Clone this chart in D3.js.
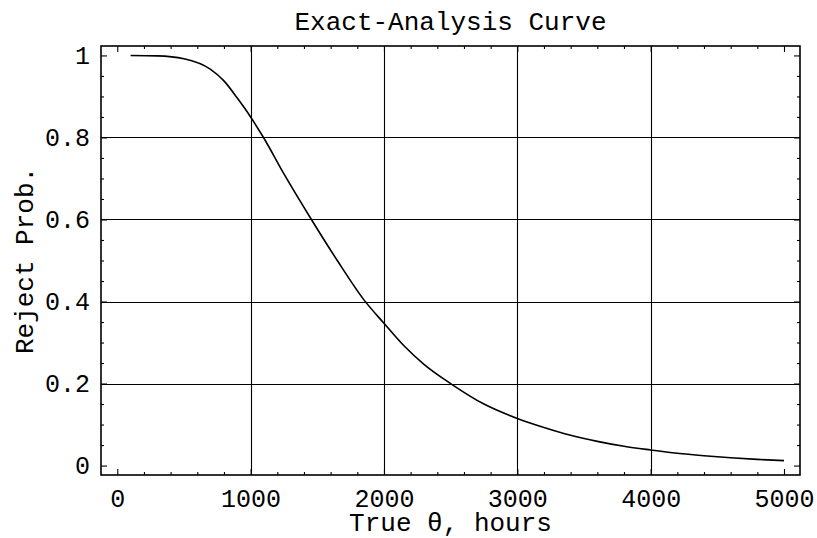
<!DOCTYPE html>
<html><head><meta charset="utf-8">
<script src="https://cdn.jsdelivr.net/npm/d3@7"></script>
<style>body{margin:0;background:#fff}svg{display:block}</style>
</head><body>
<svg id="c" width="817" height="538"></svg>
<script>
// ---- data ----
const theta = [100, 300, 500, 700, 800, 900, 1000, 1100, 1250, 1450, 1650, 1850, 2000, 2150, 2300, 2500, 2750, 3000, 3200, 3400, 3600, 3800, 4000, 4200, 4400, 4600, 4800, 5000];
const rejectProb = [1.000, 0.999, 0.992, 0.966, 0.938, 0.896, 0.850, 0.798, 0.711, 0.603, 0.500, 0.404, 0.347, 0.292, 0.247, 0.200, 0.150, 0.115, 0.093, 0.074, 0.059, 0.047, 0.038, 0.030, 0.024, 0.019, 0.015, 0.012];
const xTicks = [0, 1000, 2000, 3000, 4000, 5000];
const yTicks = [0, 0.2, 0.4, 0.6, 0.8, 1];
const xGrid = [1000, 2000, 3000, 4000];
const yGrid = [0.2, 0.4, 0.6, 0.8];
const xMinor = d3.range(0, 5001, 200).filter(v => v % 1000 !== 0);
const yMinor = d3.range(0, 21).map(i => i * 0.05).filter((v, i) => i % 4 !== 0);
const titleText = "Exact-Analysis Curve";
const xLabelText = "True \u03B8, hours";
const yLabelText = "Reject Prob.";

// ---- layout ----
const L = 101, R = 800, T = 46, B = 475;
const FONT = "'Liberation Mono', 'Courier New', monospace";
const svg = d3.select("#c");
svg.append("rect").attr("width", 817).attr("height", 538).attr("fill", "#fff");

const x = d3.scaleLinear().domain([-122, 5120]).range([L, R]);
const y = d3.scaleLinear().domain([-0.023, 1.023]).range([B, T]);

// gridlines
const g = svg.append("g").attr("stroke", "#000").attr("stroke-width", 1.1);
g.selectAll(".gx").data(xGrid).join("line")
  .attr("x1", d => Math.round(x(d)) + 0.5).attr("x2", d => Math.round(x(d)) + 0.5)
  .attr("y1", T).attr("y2", B);
g.selectAll(".gy").data(yGrid).join("line")
  .attr("y1", d => Math.round(y(d)) + 0.5).attr("y2", d => Math.round(y(d)) + 0.5)
  .attr("x1", L).attr("x2", R);

function styleAxis(sel) {
  sel.select(".domain").remove();
  sel.selectAll(".tick line").attr("stroke", "#000").attr("stroke-width", 1.1);
  sel.selectAll("text").attr("font-family", FONT).attr("font-size", 25).attr("fill", "#000");
}
const yFmt = d => (d === 0 ? "0" : d === 1 ? "1" : d3.format(".1f")(d));

// bottom axis with labels
svg.append("g").attr("transform", `translate(0,${B})`)
  .call(d3.axisBottom(x).tickValues(xTicks).tickSizeInner(-6).tickSizeOuter(0).tickPadding(14).tickFormat(d3.format("d")))
  .call(styleAxis);
svg.append("g").attr("transform", `translate(0,${B})`)
  .call(d3.axisBottom(x).tickValues(xMinor).tickSizeInner(-3).tickSizeOuter(0).tickFormat(""))
  .call(styleAxis);
// top axis (ticks only)
svg.append("g").attr("transform", `translate(0,${T})`)
  .call(d3.axisTop(x).tickValues(xTicks).tickSizeInner(-6).tickSizeOuter(0).tickFormat(""))
  .call(styleAxis);
svg.append("g").attr("transform", `translate(0,${T})`)
  .call(d3.axisTop(x).tickValues(xMinor).tickSizeInner(-3).tickSizeOuter(0).tickFormat(""))
  .call(styleAxis);
// left axis with labels
svg.append("g").attr("transform", `translate(${L},0)`)
  .call(d3.axisLeft(y).tickValues(yTicks).tickSizeInner(-6).tickSizeOuter(0).tickPadding(11).tickFormat(yFmt))
  .call(styleAxis);
svg.append("g").attr("transform", `translate(${L},0)`)
  .call(d3.axisLeft(y).tickValues(yMinor).tickSizeInner(-3).tickSizeOuter(0).tickFormat(""))
  .call(styleAxis);
// right axis (ticks only)
svg.append("g").attr("transform", `translate(${R},0)`)
  .call(d3.axisRight(y).tickValues(yTicks).tickSizeInner(-6).tickSizeOuter(0).tickFormat(""))
  .call(styleAxis);
svg.append("g").attr("transform", `translate(${R},0)`)
  .call(d3.axisRight(y).tickValues(yMinor).tickSizeInner(-3).tickSizeOuter(0).tickFormat(""))
  .call(styleAxis);

// frame
svg.append("rect").attr("x", L).attr("y", T).attr("width", R - L).attr("height", B - T)
  .attr("fill", "none").attr("stroke", "#000").attr("stroke-width", 1.6);

// curve
const pts = theta.map((t, i) => [t, rejectProb[i]]);
svg.append("path").datum(pts)
  .attr("fill", "none").attr("stroke", "#000").attr("stroke-width", 1.6)
  .attr("d", d3.line().x(d => x(d[0])).y(d => y(d[1])).curve(d3.curveMonotoneX));

// title and axis labels
svg.append("text").attr("x", (L + R) / 2).attr("y", 30).attr("text-anchor", "middle")
  .attr("font-family", FONT).attr("font-size", 26).text(titleText);
svg.append("text").attr("x", (L + R) / 2).attr("y", 531).attr("text-anchor", "middle")
  .attr("font-family", FONT).attr("font-size", 26).text(xLabelText);
svg.append("text").attr("transform", `translate(33,${(T + B) / 2}) rotate(-90)`).attr("text-anchor", "middle")
  .attr("font-family", FONT).attr("font-size", 26).text(yLabelText);
</script>
</body></html>
